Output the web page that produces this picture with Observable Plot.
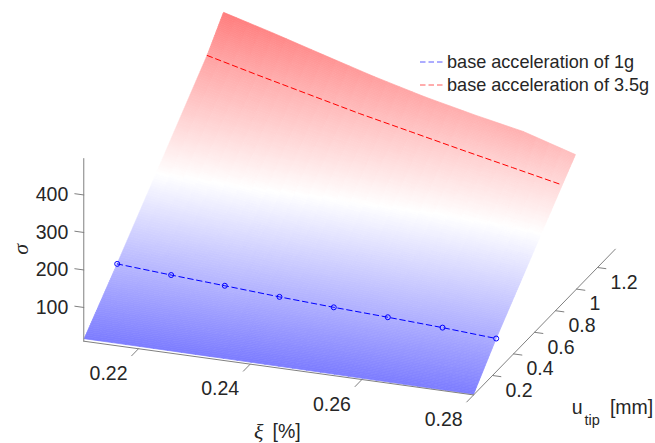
<!DOCTYPE html>
<html>
<head>
<meta charset="utf-8">
<script src="https://cdn.jsdelivr.net/npm/d3@7"></script>
<script src="https://cdn.jsdelivr.net/npm/@observablehq/plot@0.6"></script>
<style>
html,body{margin:0;padding:0;background:#fff}
#wrap{position:relative;width:655px;height:443px;overflow:hidden}
#wrap svg{display:block}
.lg{position:absolute;left:420px;font:18.1px "Liberation Sans",Arial,sans-serif;color:#262626;white-space:nowrap;line-height:18px;display:flex;align-items:center}
.lg svg{width:27px;height:4px;margin-right:0}
</style>
</head>
<body>
<div id="wrap"></div>
<script>
// Damping ratio grid shared by every series
const xiGrid = [0.21, 0.22, 0.23, 0.24, 0.25, 0.26, 0.27, 0.28];

// Surface lower edge
const uLow = [0.035, 0.034, 0.032, 0.03, 0.028, 0.025, 0.022, 0.02];
const sigmaLow = [12, 12, 12, 12, 12, 12, 12, 12];

// Base acceleration of 1g
const u1g = [0.349, 0.331, 0.31, 0.299, 0.284, 0.267, 0.256, 0.235];
const sigma1g = [121, 117, 115, 109, 106, 105, 101, 98.5];

// Base acceleration of 3.5g
const u35g = [1.206, 1.155, 1.108, 1.062, 1.018, 0.975, 0.922, 0.864];
const sigma35g = [430, 413, 395.6, 378, 362.8, 347, 336, 326.8];

// Surface upper edge
const uTop = [1.362, 1.305, 1.25, 1.2, 1.15, 1.1, 1.025, 0.99];
const sigmaTop = [500, 481.5, 460, 437, 418, 404, 402.5, 371.6];

// Axis ticks
const xiTicks = [0.22, 0.24, 0.26, 0.28];
const uTicks = [0.2, 0.4, 0.6, 0.8, 1, 1.2];
const sigmaTicks = [100, 200, 300, 400];
const legendLabels = ["base acceleration of 1g", "base acceleration of 3.5g"];

// Oblique 3D view: u shears into the xi and sigma directions
const xiShear = 0.0188, sigmaShearU = 288, sigmaShearXi = 2053;
const X = (xi, u) => xi + xiShear * u;
const Y = (xi, u, s) => s + sigmaShearU * u - sigmaShearXi * (xi - 0.28);
const P = d => X(d.xi, d.u);
const Q = d => Y(d.xi, d.u, d.s);

const xiMin = 0.2102, uMin = 0.02, uMax = 1.37, sigmaMin = 10, sigmaMax = 497;

// Surface cells between the read rows
const rows = [[uLow, sigmaLow, 40], [u1g, sigma1g, 90], [u35g, sigma35g, 24], [uTop, sigmaTop, 0]];
const bands = [];
rows.slice(0, -1).forEach((r, i) => {
  for (let k = 0; k < r[2]; k++) bands.push([i, k / r[2], (k + 1) / r[2]]);
});
const sub = 4;
const at = (col, band, t) => {
  const c0 = Math.floor(col), c1 = Math.min(c0 + 1, xiGrid.length - 1), w = col - c0;
  const a = rows[band], b = rows[band + 1];
  const v = j => (a[j][c0] * (1 - w) + a[j][c1] * w) * (1 - t) + (b[j][c0] * (1 - w) + b[j][c1] * w) * t;
  return {xi: xiGrid[c0] * (1 - w) + xiGrid[c1] * w, u: v(0), s: v(1)};
};
const cells = [];
let id = 0;
for (const [b, t0, t1] of bands) {
  for (let q = 0; q < (xiGrid.length - 1) * sub; q++) {
    const c0 = q / sub, c1 = (q + 1) / sub;
    const corners = [at(c0, b, t0), at(c1, b, t0), at(c1, b, t1), at(c0, b, t1)];
    const mean = d3.mean(corners, d => d.s);
    for (const c of [...corners, corners[0]]) cells.push({...c, id, mean});
    id++;
  }
}

const series = (us, ss) => xiGrid.map((xi, i) => ({xi, u: us[i], s: ss[i]}));
const line1g = series(u1g, sigma1g);
const line35g = series(u35g, sigma35g);

const axisColor = "#808080", textColor = "#262626";
const sans = "'Liberation Sans', Arial, sans-serif";
const serif = "'Liberation Serif', 'Times New Roman', serif";
const tickFont = {fontFamily: sans, fontSize: 19.5, fill: textColor};
const seg = (a, b) => Plot.line([a, b], {x: P, y: Q, stroke: axisColor, strokeWidth: 1});
const tickRule = (data, from, to) => data.map(v => seg(from(v), to(v)));
const xAnchor = {xi: 0.245, u: uMin, s: sigmaMin};
const corner = {xi: 0.28, u: uMin, s: sigmaMin};

const chart = Plot.plot({
  width: 655, height: 443, margin: 0,
  x: {domain: [0.28 - 471 / 5585, 0.28 + 184 / 5585], axis: null},
  y: {domain: [10 - 46.4 / 0.375, 10 + 396.6 / 0.375], axis: null},
  color: {type: "linear", domain: [12, 255, 500], range: ["#7c7cff", "#ffffff", "#ff7c7c"]},
  marks: [
    Plot.line(cells, {x: P, y: Q, z: "id", fill: "mean", stroke: "mean", strokeWidth: 0.7}),
    seg({xi: xiMin, u: uMin, s: sigmaMin}, corner),
    seg({xi: xiMin, u: uMin, s: sigmaMin}, {xi: xiMin, u: uMin, s: sigmaMax}),
    seg(corner, {xi: 0.28, u: uMax, s: sigmaMin}),
    ...tickRule(xiTicks, v => ({xi: v, u: uMin, s: sigmaMin}), v => ({xi: v, u: uMin - 0.065, s: sigmaMin})),
    ...tickRule(uTicks, v => ({xi: 0.28, u: v, s: sigmaMin}), v => ({xi: 0.2815, u: v, s: sigmaMin})),
    ...tickRule(sigmaTicks, v => ({xi: xiMin, u: uMin, s: v}), v => ({xi: xiMin - 0.0016, u: uMin, s: v})),
    Plot.line(line1g, {x: P, y: Q, stroke: "#0000ff", strokeWidth: 1, strokeDasharray: "5.5,3.5"}),
    Plot.dot(line1g, {x: P, y: Q, r: 2.5, stroke: "#0000ff", strokeWidth: 1, fill: "none"}),
    Plot.line(line35g, {x: P, y: Q, stroke: "#ff0000", strokeWidth: 1, strokeDasharray: "5.5,3.5"}),
    Plot.text(xiTicks, {x: v => X(v, uMin), y: v => Y(v, uMin, sigmaMin), text: d3.format(".2f"), dx: -30, dy: 25, ...tickFont}),
    Plot.text(uTicks, {x: v => X(0.28, v), y: v => Y(0.28, v, sigmaMin), text: d => String(d), dx: 13, dy: 15, textAnchor: "start", ...tickFont}),
    Plot.text(sigmaTicks, {x: () => X(xiMin, uMin), y: v => Y(xiMin, uMin, v), text: d => String(d), dx: -15.5, textAnchor: "end", ...tickFont}),
    Plot.text(["σ"], {x: () => X(xiMin, uMin), y: () => Y(xiMin, uMin, 255), dx: -63, rotate: -90, fontFamily: serif, fontStyle: "italic", fontSize: 22, fill: textColor}),
    Plot.text(["ξ"], {x: () => P(xAnchor), y: () => Q(xAnchor), dx: -19.5, dy: 64, fontFamily: serif, fontStyle: "italic", fontSize: 22, fill: textColor}),
    Plot.text(["[%]"], {x: () => P(xAnchor), y: () => Q(xAnchor), dx: 8.5, dy: 63.5, ...tickFont}),
    Plot.text(["u"], {x: () => P(corner), y: () => Q(corner), dx: 103.5, dy: 12.5, ...tickFont}),
    Plot.text(["tip"], {x: () => P(corner), y: () => Q(corner), dx: 118.5, dy: 25.5, fontFamily: sans, fontSize: 14.5, fill: textColor}),
    Plot.text(["[mm]"], {x: () => P(corner), y: () => Q(corner), dx: 158, dy: 12.5, ...tickFont})
  ]
});
const wrap = document.getElementById("wrap");
wrap.appendChild(chart);

// Legend placed over the plot's empty corner
const keyColors = ["#5a5aff", "#ff5a5a"];
legendLabels.forEach((label, i) => {
  const row = document.createElement("div");
  row.className = "lg";
  row.style.top = (53 + i * 23) + "px";
  row.innerHTML = `<svg viewBox="0 0 27 4"><line x1="0" x2="25" y1="2" y2="2" stroke="${keyColors[i]}" stroke-width="1" stroke-dasharray="5.5,3"/></svg><span>${label}</span>`;
  wrap.appendChild(row);
});
</script>
</body>
</html>
